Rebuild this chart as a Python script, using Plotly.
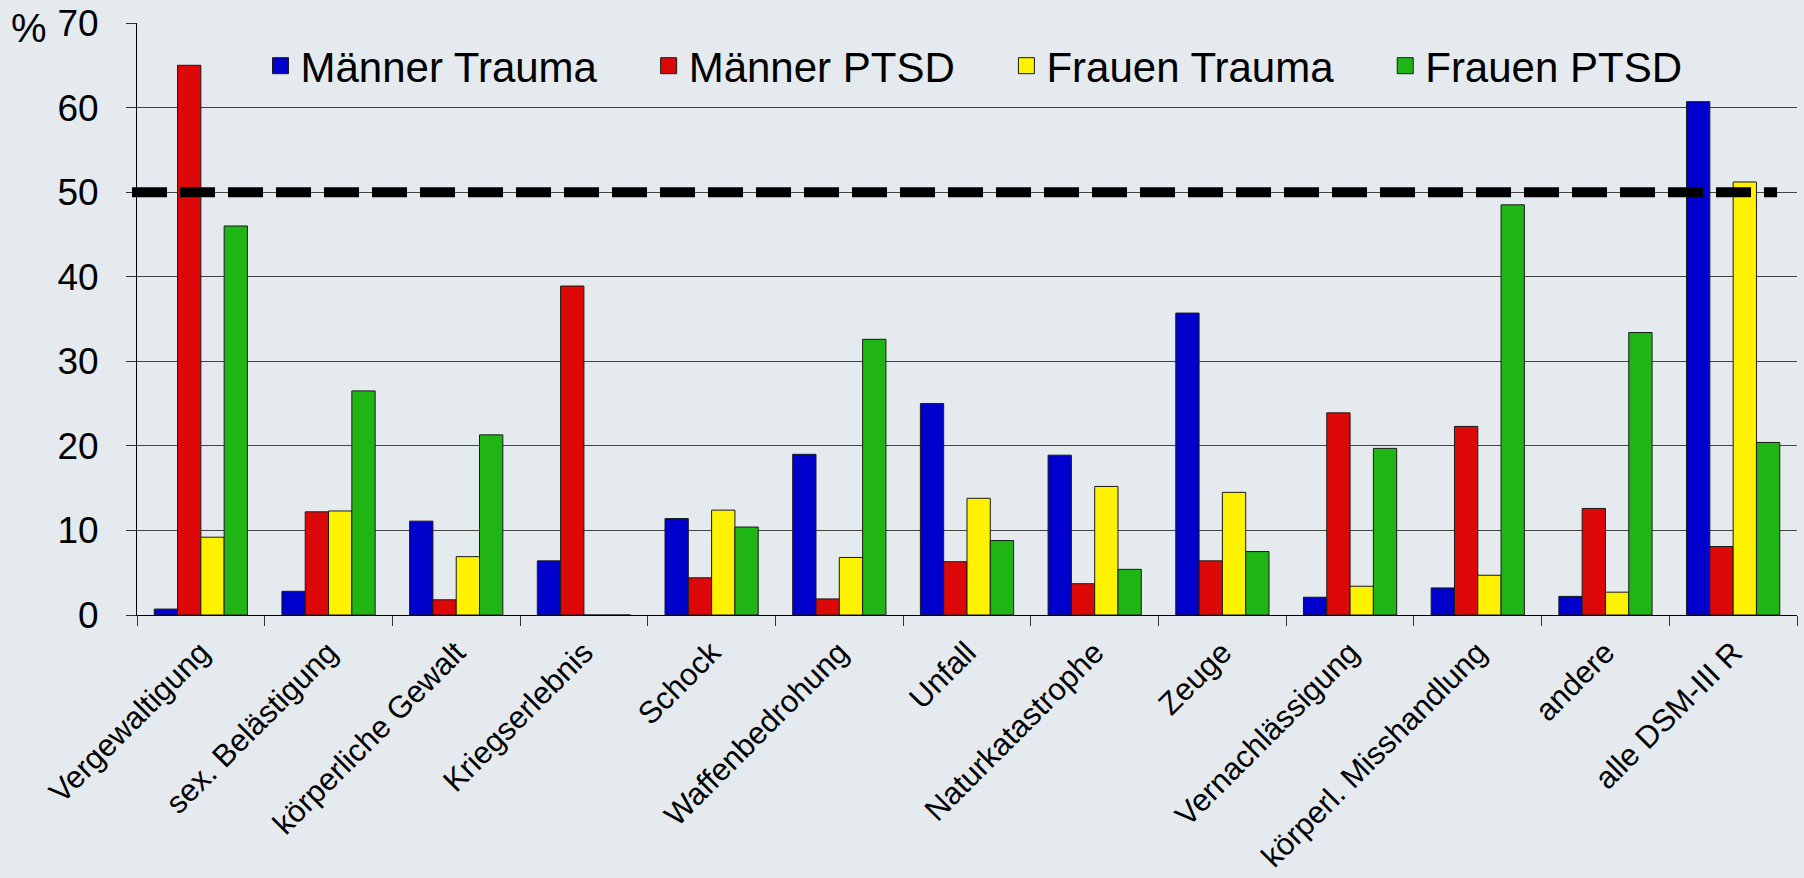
import plotly.graph_objects as go

categories = ["Vergewaltigung", "sex. Belästigung", "körperliche Gewalt", "Kriegserlebnis",
              "Schock", "Waffenbedrohung", "Unfall", "Naturkatastrophe", "Zeuge",
              "Vernachlässigung", "körperl. Misshandlung", "andere", "alle DSM-III R"]

maenner_trauma = [0.7, 2.8, 11.1, 6.4, 11.4, 19.0, 25.0, 18.9, 35.7, 2.1, 3.2, 2.2, 60.7]
maenner_ptsd = [65.0, 12.2, 1.8, 38.9, 4.4, 1.9, 6.3, 3.7, 6.4, 23.9, 22.3, 12.6, 8.1]
frauen_trauma = [9.2, 12.3, 6.9, 0, 12.4, 6.8, 13.8, 15.2, 14.5, 3.4, 4.7, 2.7, 51.2]
frauen_ptsd = [46.0, 26.5, 21.3, 0, 10.4, 32.6, 8.8, 5.4, 7.5, 19.7, 48.5, 33.4, 20.4]

series_names = ["Männer Trauma", "Männer PTSD", "Frauen Trauma", "Frauen PTSD"]
series_values = [maenner_trauma, maenner_ptsd, frauen_trauma, frauen_ptsd]
colors = ["#0000CC", "#DD0808", "#FFF200", "#1FB515"]

y_ticks = [0, 10, 20, 30, 40, 50, 60, 70]
threshold = 50

FONT = "Liberation Sans, Arial, sans-serif"
BG = "#E4EAED"

fig = go.Figure()
for name, vals, col in zip(series_names, series_values, colors):
    fig.add_trace(go.Bar(
        x=categories, y=vals, name=name, marker_color=col,
        marker_line=dict(color="#1a1a1a", width=1), showlegend=False,
    ))
# legend entries with larger square symbols
for name, col in zip(series_names, colors):
    fig.add_trace(go.Scatter(
        x=[None], y=[None], mode="markers", name=name + "\u00a0" * 4,
        marker=dict(symbol="square", size=16, color=col, line=dict(color="#1a1a1a", width=1)),
    ))

fig.add_shape(type="line", xref="paper", yref="y", x0=-0.003, x1=0.988, y0=threshold, y1=threshold,
              line=dict(color="black", width=10, dash="35px,13px"))

fig.add_annotation(text="%", xref="paper", yref="paper", x=-0.0648, y=1.0, showarrow=False,
                   font=dict(size=40, color="black", family=FONT), xanchor="center", yanchor="middle",
                   yshift=-5)

fig.update_layout(
    width=1804, height=878,
    margin=dict(l=137, r=7, t=23, b=263, autoexpand=False),
    paper_bgcolor=BG, plot_bgcolor=BG,
    font=dict(family=FONT, color="black"),
    barmode="group", bargap=0.27, bargroupgap=0,
    legend=dict(orientation="h", x=0.0744, xanchor="left", y=0.985, yanchor="top",
                font=dict(size=42, color="black", family=FONT),
                bgcolor="rgba(0,0,0,0)", itemsizing="trace"),
    xaxis=dict(type="category", showline=True, linecolor="black", linewidth=1,
               ticks="outside", ticklen=10, tickcolor="#333", tickson="boundaries",
               tickangle=-45, tickfont=dict(size=31, color="black", family=FONT),
               ticklabelstandoff=6, showgrid=False, automargin=False),
    yaxis=dict(range=[0, 70], tickvals=y_ticks, showline=True, linecolor="black", linewidth=1,
               ticks="outside", ticklen=10, tickcolor="#333", automargin=False,
               ticklabelstandoff=20,
               showgrid=True, gridcolor="#444", gridwidth=1, zeroline=False,
               tickfont=dict(size=37, color="black", family=FONT)),
)

fig.write_html("out.html", config={"displayModeBar": False},
               post_script="document.body.style.margin='0px';document.body.style.padding='0px';")
